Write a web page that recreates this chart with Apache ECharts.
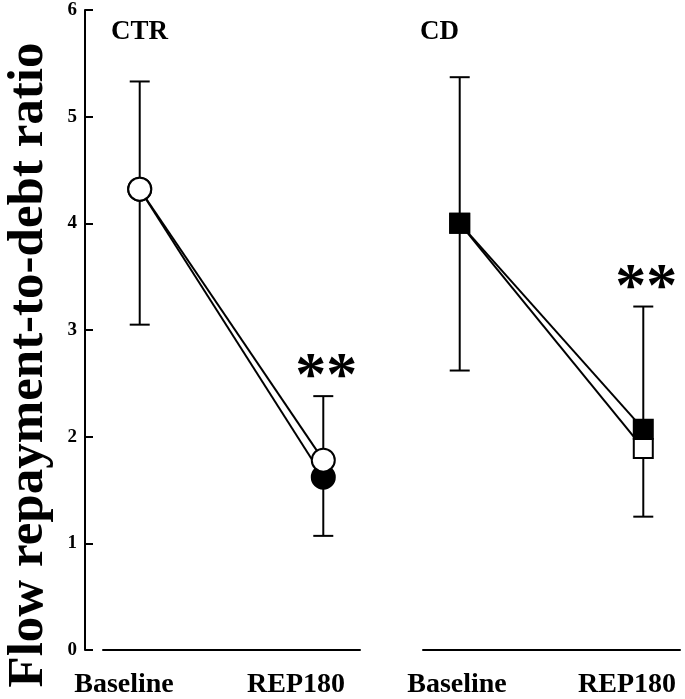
<!DOCTYPE html>
<html>
<head>
<meta charset="utf-8">
<script src="https://cdn.jsdelivr.net/npm/echarts@6/dist/echarts.min.js"></script>
<style>
  html, body { margin: 0; padding: 0; background: #fff; }
  #main { width: 685px; height: 699px; }
</style>
</head>
<body>
<div id="main"></div>
<script>
// time points
const groups = ['Baseline', 'REP180']

// CTR panel (circles)
const ctrOpen = [4.32, 1.78]
const ctrFilled = [4.32, 1.62]
const ctrUpper = [5.33, 2.38]
const ctrLower = [3.05, 1.07]

// CD panel (squares)
const cdFilled = [4.0, 2.07]
const cdOpen = [4.0, 1.89]
const cdUpper = [5.37, 3.22]
const cdLower = [2.62, 1.25]

// significance marks per time point
const sig = ['', '**']

const font = 'Liberation Serif'

function pts (vals) {
  let out = []
  for (let i in vals) {
    out.push([Number(i), vals[i]])
  }
  return out
}

function errData (lower, upper) {
  let out = []
  for (let i in lower) {
    out.push([Number(i), lower[i], upper[i], sig[i]])
  }
  return out
}

function renderErr (params, api) {
  let lo = api.coord([api.value(0), api.value(1)])
  let hi = api.coord([api.value(0), api.value(2)])
  let w = 10
  let st = { stroke: '#000', lineWidth: 2 }
  let children = [
    { type: 'line', shape: { x1: hi[0], y1: hi[1], x2: lo[0], y2: lo[1] }, style: st },
    { type: 'line', shape: { x1: hi[0] - w, y1: hi[1], x2: hi[0] + w, y2: hi[1] }, style: st },
    { type: 'line', shape: { x1: lo[0] - w, y1: lo[1], x2: lo[0] + w, y2: lo[1] }, style: st }
  ]
  let s = sig[params.dataIndex]
  if (s) {
    children.push({
      type: 'text',
      style: {
        text: s, x: hi[0] + 3, y: hi[1] - 18,
        align: 'center', verticalAlign: 'middle',
        font: 'bold 62px "' + font + '"', fill: '#000'
      }
    })
  }
  return { type: 'group', children: children }
}

let labelStyle = { margin: 31, fontFamily: font, fontWeight: 'bold', fontSize: 28, color: '#000' }
let titleStyle = { fontFamily: font, fontWeight: 'bold', fontSize: 27, color: '#000' }

let chart = echarts.init(document.getElementById('main'))
chart.setOption({
  animation: false,
  backgroundColor: '#fff',
  title: [
    { text: 'CTR', left: 106, top: 14, textStyle: titleStyle },
    { text: 'CD', left: 415, top: 14, textStyle: titleStyle }
  ],
  graphic: [{
    type: 'text',
    x: 29, y: 365,
    rotation: Math.PI / 2,
    style: {
      text: 'Flow repayment-to-debt ratio',
      align: 'center', verticalAlign: 'middle',
      font: 'bold 51px "' + font + '"', fill: '#000'
    }
  }],
  grid: [
    { left: 103, width: 257, top: 10, height: 640 },
    { left: 423, width: 257, top: 10, height: 640 },
    { left: 124, width: 172, top: 10, height: 640 },
    { left: 457, width: 170, top: 10, height: 640 }
  ],
  xAxis: [
    { gridIndex: 0, type: 'value', min: -0.2, max: 1.2, axisLine: { show: true, onZero: false, lineStyle: { color: '#000', width: 2 } }, axisTick: { show: false }, axisLabel: { show: false }, splitLine: { show: false } },
    { gridIndex: 1, type: 'value', min: -0.2, max: 1.2, axisLine: { show: true, onZero: false, lineStyle: { color: '#000', width: 2 } }, axisTick: { show: false }, axisLabel: { show: false }, splitLine: { show: false } },
    { gridIndex: 2, type: 'category', data: groups, boundaryGap: false, axisLine: { show: false }, axisTick: { show: false }, axisLabel: labelStyle },
    { gridIndex: 3, type: 'category', data: groups, boundaryGap: false, axisLine: { show: false }, axisTick: { show: false }, axisLabel: labelStyle }
  ],
  yAxis: [
    {
      gridIndex: 0, type: 'value', min: 0, max: 6, interval: 1, offset: 18,
      axisLine: { show: true, onZero: false, lineStyle: { color: '#000', width: 2 } },
      axisTick: { show: true, inside: true, length: 8, lineStyle: { color: '#000', width: 2 } },
      axisLabel: { margin: 8, fontFamily: font, fontWeight: 'bold', fontSize: 19, color: '#000' },
      splitLine: { show: false }
    },
    { gridIndex: 1, type: 'value', min: 0, max: 6, show: false },
    { gridIndex: 2, type: 'value', min: 0, max: 6, show: false },
    { gridIndex: 3, type: 'value', min: 0, max: 6, show: false }
  ],
  series: [
    {
      name: 'CTR SEM', type: 'custom', xAxisIndex: 0, yAxisIndex: 0, z: 1,
      renderItem: renderErr, data: errData(ctrLower, ctrUpper)
    },
    {
      name: 'CTR filled', type: 'line', xAxisIndex: 0, yAxisIndex: 0, z: 2,
      data: pts(ctrFilled), symbol: 'circle', symbolSize: 23,
      itemStyle: { color: '#000', borderColor: '#000', borderWidth: 2 },
      lineStyle: { color: '#000', width: 2 }
    },
    {
      name: 'CTR open', type: 'line', xAxisIndex: 0, yAxisIndex: 0, z: 3,
      data: pts(ctrOpen), symbol: 'circle', symbolSize: 23,
      itemStyle: { color: '#fff', borderColor: '#000', borderWidth: 2 },
      lineStyle: { color: '#000', width: 2 }
    },
    {
      name: 'CD SEM', type: 'custom', xAxisIndex: 1, yAxisIndex: 1, z: 1,
      renderItem: renderErr, data: errData(cdLower, cdUpper)
    },
    {
      name: 'CD open', type: 'line', xAxisIndex: 1, yAxisIndex: 1, z: 2,
      data: pts(cdOpen), symbol: 'rect', symbolSize: 19,
      itemStyle: { color: '#fff', borderColor: '#000', borderWidth: 2 },
      lineStyle: { color: '#000', width: 2 }
    },
    {
      name: 'CD filled', type: 'line', xAxisIndex: 1, yAxisIndex: 1, z: 3,
      data: pts(cdFilled), symbol: 'rect', symbolSize: 19,
      itemStyle: { color: '#000', borderColor: '#000', borderWidth: 2 },
      lineStyle: { color: '#000', width: 2 }
    }
  ]
})
</script>
</body>
</html>
